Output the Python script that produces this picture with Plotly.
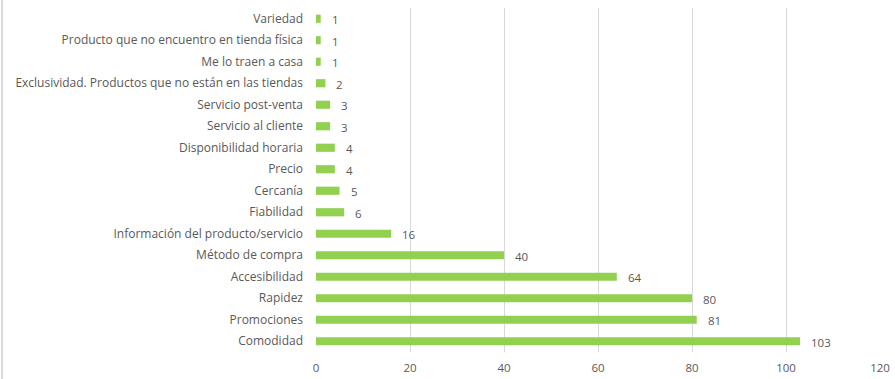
import plotly.graph_objects as go

# Reasons for choosing online shopping, with number of answers
categories = [
    "Comodidad",
    "Promociones",
    "Rapidez",
    "Accesibilidad",
    "Método de compra",
    "Información del producto/servicio",
    "Fiabilidad",
    "Cercanía",
    "Precio",
    "Disponibilidad horaria",
    "Servicio al cliente",
    "Servicio post-venta",
    "Exclusividad. Productos que no están en las tiendas",
    "Me lo traen a casa",
    "Producto que no encuentro en tienda física",
    "Variedad",
]
counts = [103, 81, 80, 64, 40, 16, 6, 5, 4, 4, 3, 3, 2, 1, 1, 1]
x_ticks = [0, 20, 40, 60, 80, 100, 120]

font_family = "Open Sans, Liberation Sans, Arial, sans-serif"
text_gray = "#595959"

fig = go.Figure(
    go.Bar(
        y=categories,
        x=counts,
        orientation="h",
        marker=dict(color="#92D050", line=dict(width=0)),
        width=0.38,
        hoverinfo="x+y",
    )
)

# value labels to the right of each bar
for cat, val in zip(categories, counts):
    fig.add_annotation(
        x=val, y=cat, text=str(val),
        xanchor="left", yanchor="middle", xshift=9, yshift=-1,
        showarrow=False,
        font=dict(color=text_gray, size=11.5, family=font_family),
    )

fig.update_layout(
    width=895,
    height=379,
    margin=dict(l=316, r=15, t=8, b=27),
    paper_bgcolor="white",
    plot_bgcolor="white",
    showlegend=False,
    font=dict(family=font_family, size=11.5, color=text_gray),
    xaxis=dict(
        range=[0, 120],
        tickvals=x_ticks,
        showgrid=True,
        gridcolor="#D9D9D9",
        gridwidth=1,
        zeroline=False,
        showline=False,
        ticks="",
        ticklabelstandoff=7,
        automargin=False,
        tickfont=dict(size=11.5, color=text_gray),
        fixedrange=True,
    ),
    yaxis=dict(
        categoryorder="array",
        categoryarray=categories,
        showgrid=False,
        zeroline=False,
        showline=False,
        ticks="",
        ticklabelstandoff=12,
        automargin=False,
        tickfont=dict(size=12, color=text_gray),
        fixedrange=True,
    ),
    shapes=[
        dict(
            type="line", xref="paper", yref="paper",
            x0=-314 / 564, x1=-314 / 564,
            y0=-27 / 344, y1=1 + 8 / 344,
            line=dict(color="#D9D9D9", width=2),
        )
    ],
)

fig.write_html("out.html")
